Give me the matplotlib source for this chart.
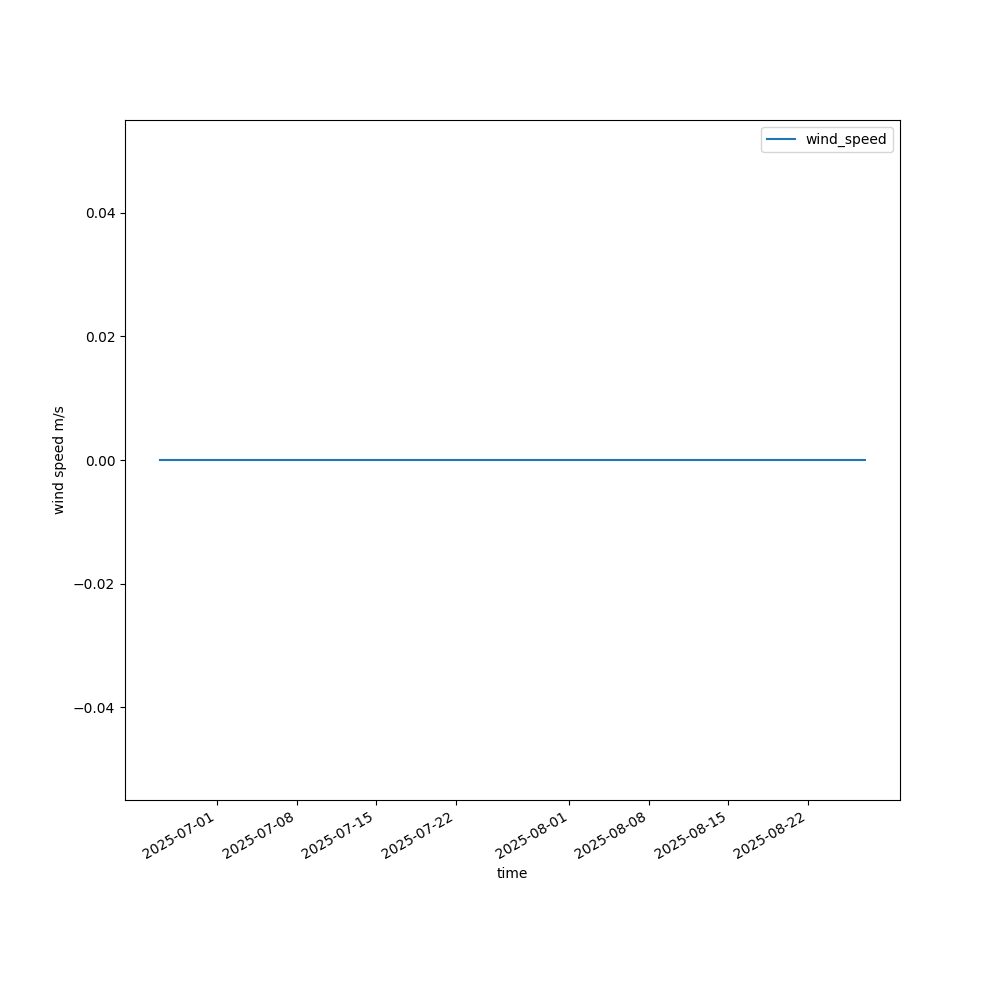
import matplotlib
matplotlib.use("Agg")
import matplotlib.pyplot as plt
import pandas as pd

# Data
start_date = "2025-06-26"
end_date = "2025-08-27"
times = pd.date_range(start_date, end_date, freq="D")
wind_speed = [0.0] * len(times)

fig, ax = plt.subplots(figsize=(10, 10), dpi=100)
ax.plot(times, wind_speed, label="wind_speed")
ax.set_xlabel("time")
ax.set_ylabel("wind speed m/s")
ax.legend(loc="upper right")
fig.autofmt_xdate()
fig.savefig("out.png")
